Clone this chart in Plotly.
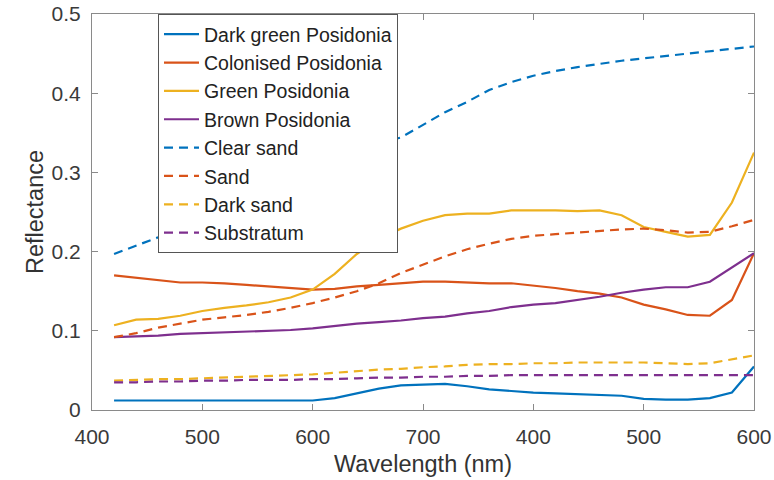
import plotly.graph_objects as go

wavelength = list(range(420, 1001, 20))

dark_green_posidonia = [0.012, 0.012, 0.012, 0.012, 0.012, 0.012, 0.012, 0.012, 0.012, 0.012,
                        0.015, 0.021, 0.027, 0.031, 0.032, 0.033, 0.030, 0.026, 0.024, 0.022,
                        0.021, 0.020, 0.019, 0.018, 0.014, 0.013, 0.013, 0.015, 0.022, 0.055]
colonised_posidonia = [0.170, 0.167, 0.164, 0.161, 0.161, 0.160, 0.158, 0.156, 0.154, 0.152,
                       0.153, 0.156, 0.158, 0.160, 0.162, 0.162, 0.161, 0.160, 0.160, 0.157,
                       0.154, 0.150, 0.147, 0.142, 0.133, 0.127, 0.120, 0.119, 0.139, 0.198]
green_posidonia = [0.107, 0.114, 0.115, 0.119, 0.125, 0.129, 0.132, 0.136, 0.142, 0.152,
                   0.172, 0.197, 0.216, 0.229, 0.239, 0.246, 0.248, 0.248, 0.252, 0.252,
                   0.252, 0.251, 0.252, 0.246, 0.231, 0.225, 0.219, 0.221, 0.262, 0.325]
brown_posidonia = [0.092, 0.093, 0.094, 0.096, 0.097, 0.098, 0.099, 0.100, 0.101, 0.103,
                   0.106, 0.109, 0.111, 0.113, 0.116, 0.118, 0.122, 0.125, 0.130, 0.133,
                   0.135, 0.139, 0.143, 0.148, 0.152, 0.155, 0.155, 0.162, 0.180, 0.198]
clear_sand = [0.197, 0.207, 0.218, 0.230, 0.242, 0.254, 0.266, 0.279, 0.292, 0.305,
              0.317, 0.328, 0.337, 0.344, 0.360, 0.376, 0.389, 0.404, 0.414, 0.422,
              0.428, 0.433, 0.437, 0.441, 0.444, 0.447, 0.450, 0.453, 0.456, 0.459]
sand = [0.092, 0.097, 0.104, 0.109, 0.114, 0.117, 0.120, 0.124, 0.129, 0.135,
        0.142, 0.150, 0.160, 0.173, 0.184, 0.194, 0.203, 0.210, 0.216, 0.220,
        0.222, 0.224, 0.226, 0.228, 0.229, 0.227, 0.224, 0.225, 0.232, 0.240]
dark_sand = [0.037, 0.038, 0.039, 0.039, 0.040, 0.041, 0.042, 0.043, 0.044, 0.045,
             0.047, 0.049, 0.051, 0.052, 0.054, 0.055, 0.057, 0.058, 0.058, 0.059,
             0.059, 0.060, 0.060, 0.060, 0.060, 0.059, 0.058, 0.059, 0.064, 0.069]
substratum = [0.035, 0.035, 0.036, 0.036, 0.037, 0.037, 0.038, 0.038, 0.038, 0.039,
              0.039, 0.040, 0.041, 0.041, 0.042, 0.042, 0.043, 0.043, 0.044, 0.044,
              0.044, 0.044, 0.044, 0.044, 0.044, 0.044, 0.044, 0.044, 0.044, 0.044]

x_tickvals = [400, 500, 600, 700, 800, 900, 1000]
x_ticktext = ["400", "500", "600", "700", "400", "500", "600"]
y_tickvals = [0, 0.1, 0.2, 0.3, 0.4, 0.5]
y_ticktext = ["0", "0.1", "0.2", "0.3", "0.4", "0.5"]

series = [
    ("Dark green Posidonia", dark_green_posidonia, "#0072BD", "solid"),
    ("Colonised Posidonia", colonised_posidonia, "#D95319", "solid"),
    ("Green Posidonia", green_posidonia, "#EDB120", "solid"),
    ("Brown Posidonia", brown_posidonia, "#7E2F8E", "solid"),
    ("Clear sand", clear_sand, "#0072BD", "9px,6px"),
    ("Sand", sand, "#D95319", "9px,6px"),
    ("Dark sand", dark_sand, "#EDB120", "9px,6px"),
    ("Substratum", substratum, "#7E2F8E", "9px,6px"),
]

fig = go.Figure()
for name, vals, color, dash in series:
    fig.add_trace(go.Scatter(x=wavelength, y=vals, mode="lines", name=name,
                             line=dict(color=color, width=2.2, dash=dash)))

font_family = "Liberation Sans, Arial, sans-serif"
axis_common = dict(showline=True, linecolor="#8a8a8a", linewidth=1.2, mirror="ticks",
                   ticks="inside", ticklen=6, tickcolor="#8a8a8a", showgrid=False,
                   zeroline=False, automargin=False,
                   tickfont=dict(size=21, color="#3a3a3a", family=font_family))

fig.update_layout(
    width=774, height=480,
    margin=dict(l=92, r=20, t=14, b=70),
    paper_bgcolor="white", plot_bgcolor="white",
    font=dict(family=font_family, color="#333333"),
    xaxis=dict(range=[400, 1000], tickvals=x_tickvals, ticktext=x_ticktext,
               ticklabelstandoff=8,
               title=dict(text="Wavelength (nm)", font=dict(size=23.5), standoff=8),
               **axis_common),
    yaxis=dict(range=[0, 0.5], tickvals=y_tickvals, ticktext=y_ticktext,
               ticklabelstandoff=6,
               title=dict(text="Reflectance", font=dict(size=23.5), standoff=1),
               **axis_common),
    legend=dict(x=0.0997, y=1.0, xanchor="left", yanchor="top",
                bgcolor="white", bordercolor="#555555", borderwidth=1,
                font=dict(size=19.5, color="#222222", family=font_family),
                itemwidth=35, tracegroupgap=0),
    showlegend=True,
)

fig.write_html("out.html")
